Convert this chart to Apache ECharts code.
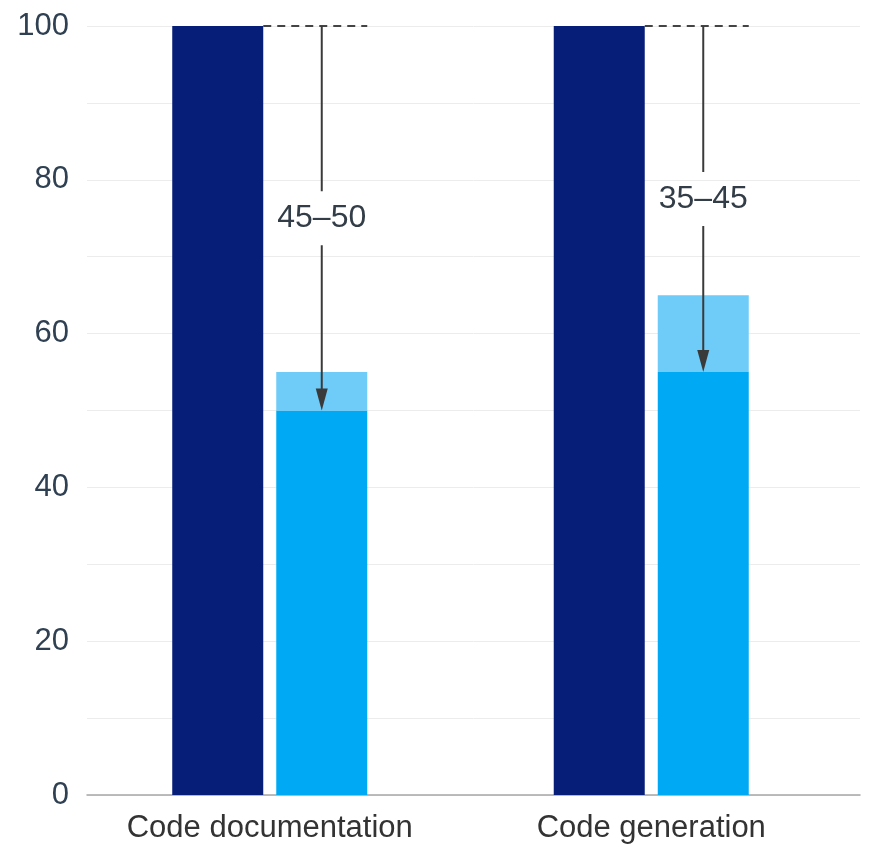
<!DOCTYPE html>
<html>
<head>
<meta charset="utf-8">
<script src="https://cdn.jsdelivr.net/npm/echarts@6/dist/echarts.min.js"></script>
<style>
html,body{margin:0;padding:0;background:#fff;}
#chart{width:873px;height:845px;}
</style>
</head>
<body>
<div id="chart"></div>
<script>
// ---- data ----
const categories = ['Code documentation', 'Code generation'];
const currentTime = [100, 100];
const genAiLow = [50, 55];
const genAiHigh = [55, 65];
const savingLabels = ['45–50', '35–45'];
const yTicks = [0, 20, 40, 60, 80, 100];

// ---- style ----
const FONT = '"Liberation Sans", Arial, Helvetica, sans-serif';
const NAVY = '#061e78';
const BLUE = '#00a9f4';
const LIGHT = '#6fcbf7';
const BAR_W = 91;
const GAP = 13;

const chart = echarts.init(document.getElementById('chart'));

const rangeData = categories.map((c, i) => genAiHigh[i] - genAiLow[i]);
const arrowData = categories.map((c, i) => [i, currentTime[i], genAiLow[i]]);

chart.setOption({
  animation: false,
  backgroundColor: '#fff',
  grid: [
    { left: 87, right: 13, top: 26, bottom: 50, containLabel: false },
    { left: 79, right: 31, top: 26, bottom: 50, containLabel: false }
  ],
  xAxis: [
    {
      gridIndex: 0, type: 'value', min: 0, max: 1,
      splitLine: { show: false }, axisTick: { show: false }, axisLabel: { show: false },
      axisLine: { show: true, onZero: false, lineStyle: { color: '#a6a6a6', width: 1.5 } }
    },
    {
      gridIndex: 1, type: 'category', data: categories,
      axisLine: { show: false }, axisTick: { show: false }, splitLine: { show: false },
      axisLabel: { fontFamily: FONT, fontSize: 31, color: '#333', margin: 18 }
    }
  ],
  yAxis: [
    {
      gridIndex: 0, type: 'value', min: 0, max: 100, interval: 10,
      axisLine: { show: false }, axisTick: { show: false },
      splitLine: { show: true, lineStyle: { color: '#ececec', width: 1 } },
      axisLabel: {
        formatter: v => (yTicks.indexOf(v) >= 0 ? String(v) : ''),
        fontFamily: FONT, fontSize: 31, color: '#2f4052', margin: 18
      }
    },
    {
      gridIndex: 1, type: 'value', min: 0, max: 100, show: false
    }
  ],
  series: [
    {
      type: 'bar', name: 'Current', xAxisIndex: 1, yAxisIndex: 1, data: currentTime,
      barWidth: BAR_W, barGap: (GAP / BAR_W * 100).toFixed(1) + '%',
      itemStyle: { color: NAVY }, silent: true
    },
    {
      type: 'bar', name: 'Low', stack: 'gen', xAxisIndex: 1, yAxisIndex: 1, data: genAiLow,
      barWidth: BAR_W, itemStyle: { color: BLUE }, silent: true
    },
    {
      type: 'bar', name: 'High', stack: 'gen', xAxisIndex: 1, yAxisIndex: 1, data: rangeData,
      barWidth: BAR_W, itemStyle: { color: LIGHT }, silent: true
    },
    {
      type: 'custom', name: 'arrows', xAxisIndex: 1, yAxisIndex: 1, data: arrowData, z: 10, silent: true,
      renderItem: function (params, api) {
        const top = api.coord([api.value(0), api.value(1)]);
        const bot = api.coord([api.value(0), api.value(2)]);
        const label = savingLabels[params.dataIndex];
        const cx = top[0];
        const ax = cx + BAR_W / 2 + GAP / 2;
        const navyRight = cx - GAP / 2;
        const blueRight = cx + GAP / 2 + BAR_W;
        const midY = (top[1] + bot[1]) / 2;
        const half = 27;
        const headH = 22, headW = 12;
        const stroke = '#3a3a3a';
        return {
          type: 'group',
          children: [
            { type: 'line', shape: { x1: navyRight, y1: top[1], x2: blueRight, y2: top[1] },
              style: { stroke: '#444', lineWidth: 2, lineDash: [8, 6] } },
            { type: 'line', shape: { x1: ax, y1: top[1], x2: ax, y2: midY - half },
              style: { stroke: stroke, lineWidth: 2 } },
            { type: 'line', shape: { x1: ax, y1: midY + half, x2: ax, y2: bot[1] - headH + 2 },
              style: { stroke: stroke, lineWidth: 2 } },
            { type: 'polygon', shape: { points: [[ax - headW / 2, bot[1] - headH], [ax + headW / 2, bot[1] - headH], [ax, bot[1]]] },
              style: { fill: stroke } },
            { type: 'text', x: ax, y: midY,
              style: { text: label, fontFamily: FONT, fontSize: 32, fill: '#333d47', align: 'center', verticalAlign: 'middle' } }
          ]
        };
      }
    }
  ]
});
</script>
</body>
</html>
